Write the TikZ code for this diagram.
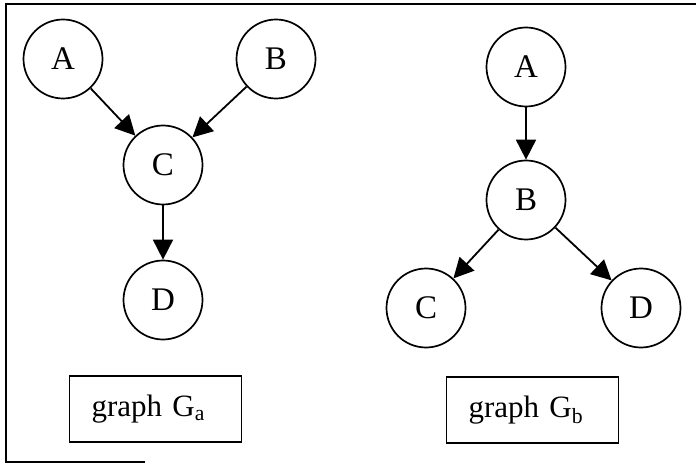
\documentclass[tikz,border=0pt]{standalone}
\usepackage{fontspec}
\setmainfont{Liberation Serif}
\usetikzlibrary{arrows.meta}

\begin{document}
\begin{tikzpicture}
        [x=1pt, y=-1pt,
         var/.style={circle, draw, line width=1.7pt, minimum size=79pt, inner sep=0pt,
                     font=\fontsize{33}{40}\selectfont},
         tag/.style={rectangle, draw, line width=1.8pt, minimum height=66pt,
                     inner xsep=22pt, text width=128pt, align=left,
                     font=\fontsize{31}{37}\selectfont},
         arr/.style={line width=1.8pt, -{Triangle[length=20pt, width=20pt]}}]
        \useasboundingbox (0,0) rectangle (696,465);
        % frame
        \draw [line width=2pt] (696,4) -- (6,4) -- (6,462) -- (145,462);
        % graph G_a
        \node (a-A) at (63, 59)[var] {A};
        \node (a-B) at (276, 59)[var] {B};
        \node (a-C) at (163,165)[var] {C};
        \node (a-D) at (163,300)[var] {D};
        \draw [arr] (a-A) -- (a-C);
        \draw [arr] (a-B) -- (a-C);
        \draw [arr] (a-C) -- (a-D);
        \node (ga) at (155.5,409)[tag] {graph G\textsubscript{a}};
        % graph G_b
        \node (b-A) at (526, 67)[var] {A};
        \node (b-B) at (526,200)[var] {B};
        \node (b-C) at (426,308)[var] {C};
        \node (b-D) at (641,308)[var] {D};
        \draw [arr] (b-A) -- (b-B);
        \draw [arr] (b-B) -- (b-C);
        \draw [arr] (b-B) -- (b-D);
        \node (gb) at (532.5,410)[tag] {graph G\textsubscript{b}};
    \end{tikzpicture}
\end{document}
